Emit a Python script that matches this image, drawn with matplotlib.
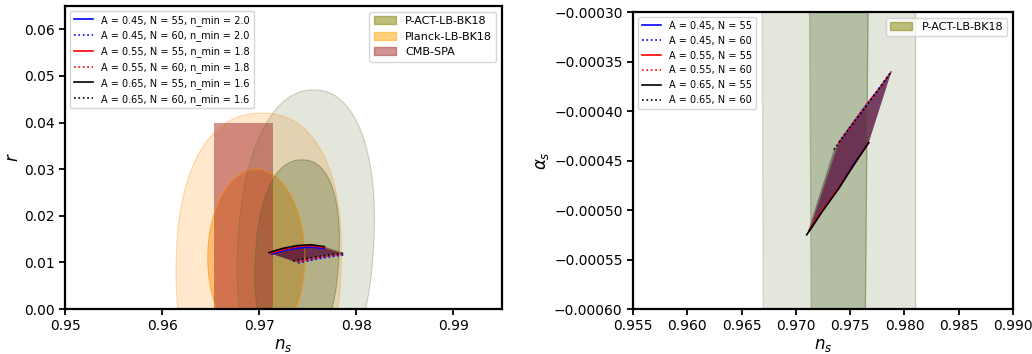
import numpy as np
import matplotlib
matplotlib.use("Agg")
import matplotlib.pyplot as plt
from matplotlib.patches import Patch
from matplotlib.ticker import FuncFormatter

# ---- constraint contours: centre ns, centre r, half width, half height, top shift, shape power
pact_outer = dict(ns=0.9748, r=0.014, a=0.0070, b=0.033, shift=0.0008, p=2.2)
pact_inner = dict(ns=0.9739, r=0.011, a=0.0043, b=0.021, shift=0.0005, p=2.3)
planck_outer = dict(ns=0.96995, r=0.010, a=0.0085, b=0.032, shift=0.0003, p=2.3)
planck_inner = dict(ns=0.9697, r=0.011, a=0.0050, b=0.019, shift=0.0, p=2.0)

# CMB-SPA box (ns range, r upper bound)
spa_ns = [0.9653, 0.9714]
spa_r_max = 0.040

# P-ACT band in (ns, alpha_s): left/right edges at top and bottom of the panel
band_outer_top = [0.9669, 0.9810]
band_outer_bot = [0.9670, 0.9810]
band_inner_top = [0.97127, 0.97664]
band_inner_bot = [0.97142, 0.97640]

# ---- model predictions
A_vals = [0.45, 0.55, 0.65]
n_mins = [2.0, 1.8, 1.6]
colors = ["blue", "red", "black"]

ns_N55 = {
    0.45: [0.9713, 0.9726, 0.9740, 0.9753, 0.9767],
    0.55: [0.9712, 0.9725, 0.9739, 0.9753, 0.9767],
    0.65: [0.9710, 0.9724, 0.9739, 0.9753, 0.9767],
}
r_N55 = {
    0.45: [0.0118, 0.0126, 0.0131, 0.0133, 0.0130],
    0.55: [0.0120, 0.0128, 0.0134, 0.0136, 0.0132],
    0.65: [0.0121, 0.0130, 0.0136, 0.0138, 0.0134],
}
alpha_N55 = {
    0.45: [-0.000520, -0.000498, -0.000477, -0.000454, -0.000432],
    0.55: [-0.000521, -0.000499, -0.000478, -0.000455, -0.000432],
    0.65: [-0.000525, -0.000502, -0.000479, -0.000455, -0.000432],
}
ns_N60 = {
    0.45: [0.9740, 0.9752, 0.9764, 0.9776, 0.9788],
    0.55: [0.9739, 0.9751, 0.9763, 0.9776, 0.9788],
    0.65: [0.9735, 0.9748, 0.9762, 0.9775, 0.9788],
}
r_N60 = {
    0.45: [0.0099, 0.0104, 0.0109, 0.0113, 0.0116],
    0.55: [0.0101, 0.0106, 0.0111, 0.0115, 0.0118],
    0.65: [0.0103, 0.0108, 0.0113, 0.0117, 0.0120],
}
alpha_N60 = {
    0.45: [-0.000431, -0.000413, -0.000395, -0.000378, -0.000360],
    0.55: [-0.000433, -0.000414, -0.000396, -0.000378, -0.000360],
    0.65: [-0.000439, -0.000419, -0.000399, -0.000380, -0.000360],
}


def contour_outline(c, npts=200):
    """Closed outline of a rounded contour (superellipse with a small tilt)."""
    t = np.linspace(0, 2 * np.pi, npts)
    ct, st = np.cos(t), np.sin(t)
    x = np.sign(ct) * np.abs(ct) ** (2 / c["p"])
    y = np.sign(st) * np.abs(st) ** (2 / c["p"])
    ns = c["ns"] + c["a"] * x + c["shift"] * y
    r = c["r"] + c["b"] * y
    return ns, r


def draw_contour(ax, c, color, alpha):
    ns, r = contour_outline(c)
    ax.fill(ns, r, color=color, alpha=alpha, lw=0)
    ax.plot(ns, r, color=color, alpha=min(1, alpha + 0.1), lw=0.8)


def minus_fmt(fmt):
    return FuncFormatter(lambda v, pos: (fmt % v).replace("-", "\u2212"))


fig = plt.figure(figsize=(10.32, 3.54), dpi=100)
ax1 = fig.add_axes([0.063, 0.127, 0.4234, 0.856])
ax2 = fig.add_axes([0.6134, 0.127, 0.3682, 0.839])

pact_col = "darkolivegreen"
planck_col = "darkorange"

# ---- left panel: r vs ns
draw_contour(ax1, planck_outer, planck_col, 0.2)
draw_contour(ax1, planck_inner, planck_col, 0.45)
draw_contour(ax1, pact_outer, pact_col, 0.17)
draw_contour(ax1, pact_inner, pact_col, 0.32)
ax1.fill_between(spa_ns, 0, spa_r_max, color="brown", alpha=0.5, lw=0)

for A, nmin, col in zip(A_vals, n_mins, colors):
    ax1.plot(ns_N55[A], r_N55[A], color=col, ls="-", lw=1.2,
             label=f"A = {A:.2f}, N = 55, n_min = {nmin:.1f}")
    ax1.plot(ns_N60[A], r_N60[A], color=col, ls=":", lw=1.2,
             label=f"A = {A:.2f}, N = 60, n_min = {nmin:.1f}")
    ax1.fill(ns_N55[A] + ns_N60[A][::-1], r_N55[A] + r_N60[A][::-1],
             color=col, alpha=0.35, lw=0)

ax1.set_xlim(0.95, 0.995)
ax1.set_ylim(0, 0.065)
ax1.set_xticks([0.95, 0.96, 0.97, 0.98, 0.99])
ax1.set_yticks([0.0, 0.01, 0.02, 0.03, 0.04, 0.05, 0.06])
ax1.xaxis.set_major_formatter(minus_fmt("%.2f"))
ax1.yaxis.set_major_formatter(minus_fmt("%.2f"))
ax1.set_xlabel("$n_s$", fontsize=12, labelpad=2)
ax1.set_ylabel("$r$", fontsize=12, labelpad=1)

leg1 = ax1.legend(loc="upper left", fontsize=7)
ax1.add_artist(leg1)
handles = [Patch(color="olive", alpha=0.5, label="P-ACT-LB-BK18"),
           Patch(color="orange", alpha=0.5, label="Planck-LB-BK18"),
           Patch(color="brown", alpha=0.5, label="CMB-SPA")]
ax1.legend(handles=handles, loc="upper right", fontsize=8)

# ---- right panel: alpha_s vs ns
y_lo, y_hi = -0.0006, -0.0003
ax2.fill_betweenx([y_lo, y_hi], [band_outer_bot[0], band_outer_top[0]],
                  [band_outer_bot[1], band_outer_top[1]], color=pact_col, alpha=0.17, lw=0)
ax2.fill_betweenx([y_lo, y_hi], [band_inner_bot[0], band_inner_top[0]],
                  [band_inner_bot[1], band_inner_top[1]], color=pact_col, alpha=0.32, lw=0)
for lo, hi, a in ((band_outer_bot, band_outer_top, 0.25), (band_inner_bot, band_inner_top, 0.4)):
    for k in range(2):
        ax2.plot([lo[k], hi[k]], [y_lo, y_hi], color=pact_col, alpha=a, lw=1)

for A, col in zip(A_vals, colors):
    ax2.plot(ns_N55[A], alpha_N55[A], color=col, ls="-", lw=1.2, label=f"A = {A:.2f}, N = 55")
    ax2.plot(ns_N60[A], alpha_N60[A], color=col, ls=":", lw=1.2, label=f"A = {A:.2f}, N = 60")
    ax2.fill(ns_N55[A] + ns_N60[A][::-1], alpha_N55[A] + alpha_N60[A][::-1],
             color=col, alpha=0.35, lw=0)

ax2.set_xlim(0.955, 0.990)
ax2.set_ylim(y_lo, y_hi)
ax2.set_xticks([0.955, 0.960, 0.965, 0.970, 0.975, 0.980, 0.985, 0.990])
ax2.set_yticks([-0.0006, -0.00055, -0.0005, -0.00045, -0.0004, -0.00035, -0.0003])
ax2.xaxis.set_major_formatter(minus_fmt("%.3f"))
ax2.yaxis.set_major_formatter(minus_fmt("%.5f"))
ax2.set_xlabel("$n_s$", fontsize=12, labelpad=2)
ax2.set_ylabel(r"$\alpha_s$", fontsize=12, labelpad=2)

leg2 = ax2.legend(loc="upper left", fontsize=7)
ax2.add_artist(leg2)
ax2.legend(handles=[Patch(color="olive", alpha=0.5, label="P-ACT-LB-BK18")],
           loc="upper right", fontsize=8)

for ax in (ax1, ax2):
    for s in ax.spines.values():
        s.set_linewidth(1.6)
    ax.tick_params(labelsize=10, width=1.3, length=4)

fig.savefig("out.png", dpi=100)
